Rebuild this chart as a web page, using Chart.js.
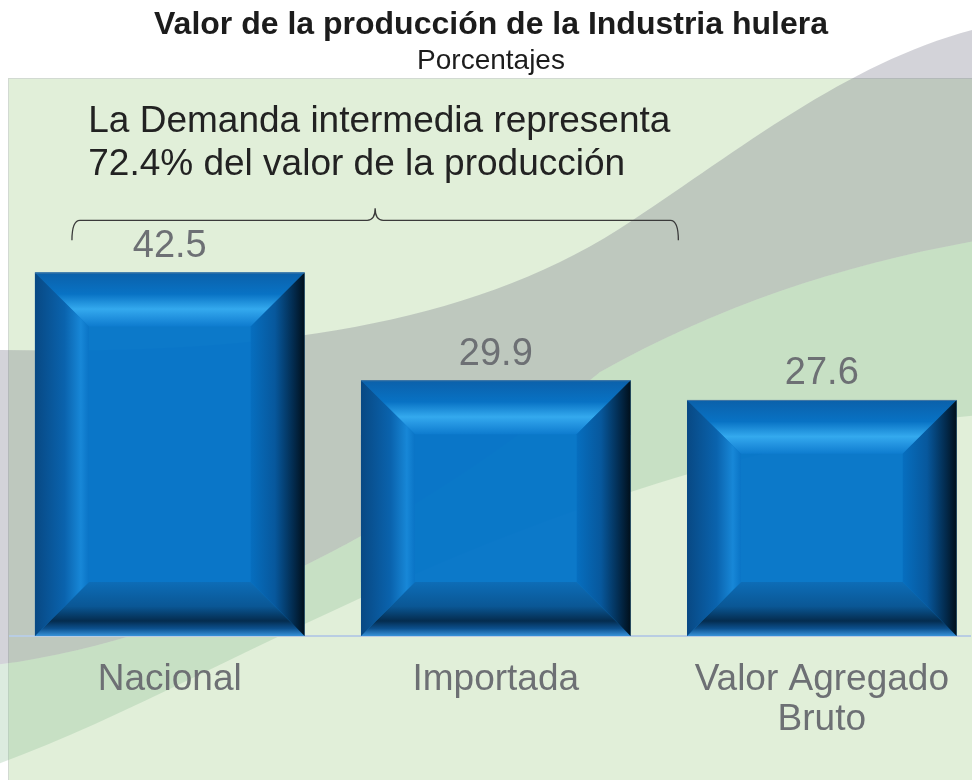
<!DOCTYPE html>
<html><head><meta charset="utf-8">
<script src="https://cdn.jsdelivr.net/npm/chart.js@4.4.1/dist/chart.umd.min.js"></script>
<style>html,body{margin:0;padding:0;background:#fff;overflow:hidden}canvas{display:block}</style>
</head><body>
<canvas id="c" width="972" height="780"></canvas>
<script>
// ---- data ----
const categories = ['Nacional', 'Importada', 'Valor Agregado Bruto'];
const tickLabels = [['Nacional'], ['Importada'], ['Valor Agregado', 'Bruto']];
const values = [42.5, 29.9, 27.6];
const valueLabels = ['42.5', '29.9', '27.6'];
const titleText = 'Valor de la producción de la Industria hulera';
const subtitleText = 'Porcentajes';
const noteLines = ['La Demanda intermedia representa', '72.4% del valor de la producción'];
const notePos = { x: -0.25, y: 58.9 };          // in axis units
const braceSpan = { from: -0.30, to: 1.56, y: 48.6 }; // in axis units

const FONT = "'Liberation Sans', Arial, Helvetica, sans-serif";

const bgPlugin = {
  id: 'bg',
  beforeDraw(chart) {
    const { ctx, chartArea: a, width, height } = chart;
    ctx.save();
    ctx.fillStyle = '#ffffff';
    ctx.fillRect(0, 0, width, height);
    const gx = a.left - 2, gy = a.top - 2;
    ctx.fillStyle = '#e1efd9';
    ctx.fillRect(gx, gy, width - gx, height - gy);
    ctx.strokeStyle = '#d2dad2';
    ctx.lineWidth = 1;
    ctx.beginPath();
    ctx.moveTo(gx, gy + 0.5); ctx.lineTo(width, gy + 0.5);
    ctx.moveTo(gx + 0.5, gy); ctx.lineTo(gx + 0.5, height);
    ctx.stroke();
    // light green swoosh
    ctx.fillStyle = 'rgba(140,190,150,0.30)';
    ctx.beginPath();
    ctx.moveTo(-5, 665);
    ctx.bezierCurveTo(200, 640, 420, 520, 600, 372);
    ctx.bezierCurveTo(720, 305, 840, 265, 980, 240);
    ctx.lineTo(980, 415);
    ctx.bezierCurveTo(820, 430, 620, 485, 420, 572);
    ctx.bezierCurveTo(260, 640, 120, 720, -5, 765);
    ctx.closePath();
    ctx.fill();
    // grey swoosh
    ctx.fillStyle = 'rgba(110,110,130,0.30)';
    ctx.beginPath();
    ctx.moveTo(-5, 350);
    ctx.bezierCurveTo(250, 355, 470, 330, 633, 220);
    ctx.bezierCurveTo(740, 150, 850, 60, 980, 28);
    ctx.lineTo(980, 240);
    ctx.bezierCurveTo(840, 265, 720, 305, 600, 372);
    ctx.bezierCurveTo(420, 520, 200, 640, -5, 665);
    ctx.closePath();
    ctx.fill();
    ctx.restore();
  }
};

function grad(ctx, x0, y0, x1, y1, stops) {
  const g = ctx.createLinearGradient(x0, y0, x1, y1);
  stops.forEach(s => g.addColorStop(s[0], s[1]));
  return g;
}

const bevelPlugin = {
  id: 'bevel',
  afterDatasetsDraw(chart) {
    const ctx = chart.ctx;
    const meta = chart.getDatasetMeta(0);
    ctx.save();
    ctx.globalAlpha = 0.95;
    meta.data.forEach(el => {
      const x0 = el.x - el.width / 2, x1 = el.x + el.width / 2;
      const y0 = el.y, y1 = el.base;
      const b = Math.min(el.width * 0.2, (y1 - y0) * 0.25);
      // top
      ctx.fillStyle = grad(ctx, 0, y0, 0, y0 + b, [[0, '#0b5fa8'], [0.4, '#0872c4'], [0.68, '#36acf0'], [0.82, '#2596e2'], [1, '#0e7ccf']]);
      ctx.beginPath(); ctx.moveTo(x0, y0); ctx.lineTo(x1, y0); ctx.lineTo(x1 - b, y0 + b); ctx.lineTo(x0 + b, y0 + b); ctx.closePath(); ctx.fill();
      // bottom
      ctx.fillStyle = grad(ctx, 0, y1 - b, 0, y1, [[0, '#0d6cb6'], [0.45, '#0a5592'], [0.72, '#042848'], [0.86, '#0c4e8a'], [1, '#3a94da']]);
      ctx.beginPath(); ctx.moveTo(x0, y1); ctx.lineTo(x1, y1); ctx.lineTo(x1 - b, y1 - b); ctx.lineTo(x0 + b, y1 - b); ctx.closePath(); ctx.fill();
      // left
      ctx.fillStyle = grad(ctx, x0, 0, x0 + b, 0, [[0, '#084680'], [0.55, '#0a62ac'], [0.85, '#1888d8'], [1, '#0a74c6']]);
      ctx.beginPath(); ctx.moveTo(x0, y0); ctx.lineTo(x0 + b, y0 + b); ctx.lineTo(x0 + b, y1 - b); ctx.lineTo(x0, y1); ctx.closePath(); ctx.fill();
      // right
      ctx.fillStyle = grad(ctx, x1 - b, 0, x1, 0, [[0, '#066ebf'], [0.45, '#07569a'], [0.8, '#022646'], [1, '#000a12']]);
      ctx.beginPath(); ctx.moveTo(x1, y0); ctx.lineTo(x1, y1); ctx.lineTo(x1 - b, y1 - b); ctx.lineTo(x1 - b, y0 + b); ctx.closePath(); ctx.fill();
      // top edge
      ctx.strokeStyle = '#4b7aa2'; ctx.lineWidth = 1;
      ctx.beginPath(); ctx.moveTo(x0, y0 + 0.5); ctx.lineTo(x1, y0 + 0.5); ctx.stroke();
    });
    ctx.restore();
    // value labels
    ctx.save();
    ctx.font = '38px ' + FONT;
    ctx.fillStyle = '#6d7074';
    ctx.textAlign = 'center';
    ctx.textBaseline = 'middle';
    meta.data.forEach((el, i) => ctx.fillText(valueLabels[i], el.x, el.y - 26));
    ctx.restore();
  }
};

const notePlugin = {
  id: 'note',
  afterDraw(chart) {
    const { ctx, scales: { x, y } } = chart;
    ctx.save();
    ctx.font = '37px ' + FONT;
    ctx.fillStyle = '#222222';
    ctx.textAlign = 'left';
    ctx.textBaseline = 'alphabetic';
    const tx = x.getPixelForValue(notePos.x), ty = y.getPixelForValue(notePos.y);
    noteLines.forEach((t, i) => ctx.fillText(t, tx, ty + i * 43));
    // brace
    const xl = x.getPixelForValue(braceSpan.from), xr = x.getPixelForValue(braceSpan.to);
    const xm = (xl + xr) / 2, yb = y.getPixelForValue(braceSpan.y);
    const drop = 20, tip = 12, r = 8;
    ctx.strokeStyle = '#3a3a3a';
    ctx.lineWidth = 1.3;
    ctx.beginPath();
    ctx.moveTo(xl, yb + drop);
    ctx.quadraticCurveTo(xl, yb, xl + r, yb);
    ctx.lineTo(xm - r, yb);
    ctx.quadraticCurveTo(xm, yb, xm, yb - tip);
    ctx.quadraticCurveTo(xm, yb, xm + r, yb);
    ctx.lineTo(xr - r, yb);
    ctx.quadraticCurveTo(xr, yb, xr, yb + drop);
    ctx.stroke();
    ctx.restore();
  }
};

new Chart(document.getElementById('c'), {
  type: 'bar',
  data: {
    datasets: [{
      label: 'Porcentaje',
      data: values.map((v, i) => ({ x: i, y: v })),
      backgroundColor: 'rgba(0,114,200,0.95)',
      borderWidth: 0,
      barPercentage: 0.827,
      categoryPercentage: 1
    }]
  },
  options: {
    responsive: false,
    devicePixelRatio: 1,
    animation: false,
    layout: { padding: { left: 10, right: 0, top: 0, bottom: 0 } },
    plugins: {
      legend: { display: false },
      tooltip: { enabled: false },
      title: {
        display: true, text: titleText, color: '#1c1c1c',
        font: { family: FONT, size: 32, weight: 'bold', lineHeight: 1.2 },
        padding: { top: 6, bottom: 0 }
      },
      subtitle: {
        display: true, text: subtitleText, color: '#1c1c1c',
        font: { family: FONT, size: 28, weight: 'normal', lineHeight: 1.2 },
        padding: { top: 0, bottom: 2 }
      }
    },
    scales: {
      x: {
        type: 'linear',
        offset: false,
        bounds: 'data',
        min: -0.49, max: 2.456,
        afterBuildTicks: (s) => { s.ticks = categories.map((_, i) => ({ value: i })); },
        afterFit: (s) => { s.height = 144; },
        grid: { display: false, drawTicks: false, offset: false },
        border: { display: true, color: '#b9cde3', width: 2 },
        ticks: {
          callback: (v) => tickLabels[v],
          color: '#6d7074',
          font: { family: FONT, size: 37, lineHeight: 1.1 },
          padding: 23, maxRotation: 0, minRotation: 0, autoSkip: false
        }
      },
      y: {
        display: false,
        min: 0, max: 65,
        grid: { display: false }
      }
    }
  },
  plugins: [bgPlugin, bevelPlugin, notePlugin]
});
</script></body></html>
